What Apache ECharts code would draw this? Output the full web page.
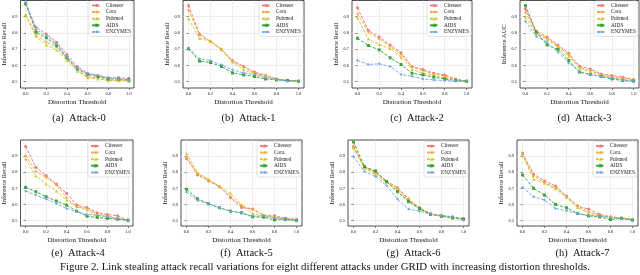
<!DOCTYPE html>
<html>
<head>
<meta charset="utf-8">
<script src="https://cdn.jsdelivr.net/npm/echarts@6/dist/echarts.min.js"></script>
<style>
html,body{margin:0;padding:0;background:#fff;}
#c{width:640px;height:275px;}
</style>
</head>
<body>
<div id="c"></div>
<script>
const thresholds = [0.0,0.1,0.2,0.3,0.4,0.5,0.6,0.7,0.8,0.9,1.0];
const xTicks = [0.0,0.2,0.4,0.6,0.8,1.0];
const yTicks = [0.5,0.6,0.7,0.8,0.9];
const datasets = ['Citeseer','Cora','Pubmed','AIDS','ENZYMES'];
const attacks = ['(a)  Attack-0','(b)  Attack-1','(c)  Attack-2','(d)  Attack-3','(e)  Attack-4','(f)  Attack-5','(g)  Attack-6','(h)  Attack-7'];
const yNames = ['Inference Recall','Inference Recall','Inference Recall','Inference AUC','Inference Recall','Inference Recall','Inference Recall','Inference Recall'];
const caption = 'Figure 2. Link stealing attack recall variations for eight different attacks under GRID with increasing distortion thresholds.';

// one row per attack (0..7), 11 values per row (thresholds 0.0..1.0)
const citeseer = [
  [0.98,0.835,0.794,0.743,0.667,0.593,0.551,0.537,0.523,0.523,0.520],
  [0.969,0.794,0.747,0.698,0.630,0.593,0.558,0.537,0.516,0.506,0.502],
  [0.955,0.815,0.774,0.726,0.677,0.593,0.574,0.551,0.541,0.516,0.502],
  [0.949,0.810,0.774,0.726,0.675,0.595,0.578,0.547,0.537,0.527,0.512],
  [0.960,0.831,0.779,0.727,0.669,0.596,0.581,0.548,0.538,0.529,0.502],
  [0.885,0.783,0.746,0.710,0.642,0.581,0.571,0.533,0.529,0.515,0.506],
  [0.960,0.831,0.800,0.746,0.704,0.627,0.579,0.544,0.529,0.523,0.513],
  [0.919,0.788,0.746,0.715,0.652,0.590,0.571,0.538,0.523,0.517,0.506]
];
const cora = [
  [0.91,0.790,0.743,0.712,0.640,0.572,0.527,0.523,0.510,0.506,0.506],
  [0.942,0.788,0.747,0.695,0.623,0.588,0.553,0.537,0.516,0.506,0.502],
  [0.918,0.805,0.763,0.716,0.667,0.588,0.568,0.547,0.533,0.512,0.502],
  [0.928,0.800,0.767,0.718,0.667,0.588,0.568,0.543,0.531,0.520,0.512],
  [0.904,0.804,0.769,0.721,0.642,0.585,0.575,0.540,0.529,0.513,0.502],
  [0.896,0.790,0.752,0.710,0.648,0.592,0.571,0.533,0.521,0.510,0.506],
  [0.954,0.829,0.794,0.742,0.700,0.638,0.575,0.540,0.533,0.523,0.508],
  [0.913,0.777,0.735,0.704,0.648,0.590,0.554,0.533,0.523,0.513,0.508]
];
const pubmed = [
  [0.91,0.778,0.726,0.695,0.630,0.564,0.523,0.516,0.506,0.506,0.502],
  [0.887,0.767,0.747,0.702,0.620,0.572,0.547,0.531,0.512,0.510,0.502],
  [0.893,0.763,0.728,0.702,0.650,0.574,0.553,0.537,0.523,0.512,0.502],
  [0.897,0.794,0.757,0.712,0.654,0.582,0.558,0.537,0.523,0.512,0.506],
  [0.883,0.777,0.727,0.683,0.627,0.585,0.565,0.533,0.523,0.513,0.502],
  [0.917,0.798,0.756,0.710,0.669,0.600,0.544,0.529,0.521,0.510,0.506],
  [0.950,0.825,0.783,0.738,0.690,0.621,0.571,0.540,0.527,0.513,0.508],
  [0.908,0.756,0.731,0.696,0.644,0.581,0.544,0.529,0.519,0.513,0.508]
];
const aids = [
  [0.98,0.805,0.770,0.722,0.646,0.578,0.543,0.531,0.516,0.516,0.510],
  [0.702,0.626,0.617,0.593,0.553,0.541,0.531,0.516,0.510,0.506,0.502],
  [0.767,0.722,0.695,0.646,0.605,0.551,0.541,0.527,0.516,0.506,0.502],
  [0.969,0.805,0.726,0.698,0.630,0.558,0.543,0.531,0.516,0.506,0.502],
  [0.706,0.679,0.648,0.621,0.596,0.558,0.527,0.519,0.513,0.508,0.502],
  [0.694,0.635,0.604,0.579,0.558,0.548,0.523,0.521,0.504,0.506,0.500],
  [0.988,0.835,0.808,0.742,0.679,0.617,0.575,0.538,0.527,0.519,0.508],
  [0.783,0.700,0.658,0.600,0.579,0.544,0.529,0.523,0.506,0.513,0.502]
];
const enzymes = [
  [0.99,0.820,0.784,0.733,0.650,0.582,0.547,0.537,0.523,0.516,0.510],
  [0.708,0.640,0.630,0.603,0.572,0.553,0.543,0.523,0.512,0.502,0.502],
  [0.630,0.605,0.609,0.593,0.543,0.533,0.516,0.510,0.506,0.502,0.502],
  [0.872,0.778,0.743,0.681,0.615,0.562,0.543,0.531,0.520,0.510,0.502],
  [0.683,0.658,0.633,0.606,0.575,0.554,0.538,0.533,0.523,0.508,0.502],
  [0.677,0.625,0.604,0.579,0.558,0.548,0.527,0.529,0.515,0.506,0.500],
  [0.898,0.804,0.773,0.717,0.633,0.571,0.558,0.540,0.529,0.523,0.502],
  [0.706,0.648,0.627,0.575,0.560,0.544,0.533,0.527,0.519,0.513,0.502]
];
const seriesValues = [citeseer, cora, pubmed, aids, enzymes];

const colors = ['#e8707a','#ffa032','#c8c62a','#2ca02c','#6fa3f2'];
const symbols = ['circle','diamond','triangle','rect','diamond'];

// layout of the 8 panels
const panelLeft = [14,183,352,520,13,181,348,517];
const panelWidth = [120,121,120,119,120,121,121,121];
const rowTop = [0.5,140];
const rowHeight = [87.5,86];
const rowYMin = [0.46,0.466];

const FONT = '"Liberation Serif","Times New Roman",serif';

const grids=[], xAxes=[], yAxes=[], series=[], legends=[], titles=[];
for (let p=0;p<8;p++){
  const row = p<4?0:1;
  grids.push({left:panelLeft[p], top:rowTop[row], width:panelWidth[p], height:rowHeight[row],
    show:true, borderColor:'#222', borderWidth:0.8, backgroundColor:'#fff', containLabel:false});
  xAxes.push({type:'value', gridIndex:p, min:-0.05, max:1.05,
    name:'Distortion Threshold', nameLocation:'middle', nameGap:11,
    nameTextStyle:{fontFamily:FONT, fontSize:7, color:'#111'},
    axisLine:{show:false},
    axisTick:{show:true, length:2, lineStyle:{color:'#333', width:0.6}, customValues:xTicks},
    axisLabel:{fontFamily:FONT, fontSize:4.5, color:'#222', margin:3, customValues:xTicks,
      formatter:v=>v.toFixed(1)},
    splitLine:{show:true, lineStyle:{color:'#e2e2e2', width:0.6}}
  });
  yAxes.push({type:'value', gridIndex:p, min:rowYMin[row], max:1.0,
    name:yNames[p], nameLocation:'middle', nameGap:9, nameRotate:90,
    nameTextStyle:{fontFamily:FONT, fontSize:6.5, color:'#111'},
    axisLine:{show:false},
    axisTick:{show:true, length:2, lineStyle:{color:'#333', width:0.6}, customValues:yTicks},
    axisLabel:{fontFamily:FONT, fontSize:4.5, color:'#222', margin:3, customValues:yTicks,
      formatter:v=>v.toFixed(1)},
    splitLine:{show:true, lineStyle:{color:'#e2e2e2', width:0.6}}
  });
  for (let s=0;s<5;s++){
    series.push({type:'line', name:datasets[s], xAxisIndex:p, yAxisIndex:p,
      data:thresholds.map((t,i)=>[t, seriesValues[s][p][i]]),
      symbol:symbols[s], symbolSize:3, showSymbol:true,
      lineStyle:{color:colors[s], width:1, type:[3,1.5], opacity:0.9},
      itemStyle:{color:colors[s], opacity:0.9},
      animation:false, silent:true, z:2+s});
  }
  const rightEdge = 640 - (panelLeft[p]+panelWidth[p]);
  legends.push({data:datasets, orient:'vertical', right:rightEdge+1, top:rowTop[row]+(row?1.5:0.5),
    itemWidth:9, itemHeight:4, itemGap:0.6, padding:[1.5,2,1.5,2],
    backgroundColor:'rgba(255,255,255,0.85)', borderColor:'#d0d0d0', borderWidth:0.6, borderRadius:2,
    textStyle:{fontFamily:FONT, fontSize:5.3, lineHeight:6, color:'#222', padding:[0,0,0,0]},
    selectedMode:false});
  titles.push({text:attacks[p], left:panelLeft[p]+panelWidth[p]/2, textAlign:'center',
    top: row?242.5:108,
    textStyle:{fontFamily:FONT, fontSize:10.5, fontWeight:'normal', color:'#111'}});
}
titles.push({text:caption, left:320, textAlign:'center', top:257,
  textStyle:{fontFamily:FONT, fontSize:10.8, fontWeight:'normal', color:'#111'}});

const chart = echarts.init(document.getElementById('c'), null, {renderer:'canvas'});
chart.setOption({animation:false, backgroundColor:'#fff', title:titles, grid:grids, xAxis:xAxes, yAxis:yAxes,
  legend:legends, series:series});
</script>
</body>
</html>
